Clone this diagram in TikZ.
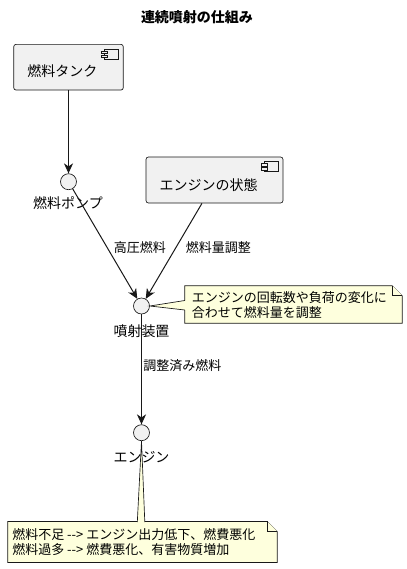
\documentclass[tikz,border=0pt]{standalone}
\usepackage{fontspec}
\newfontfamily\cjk{Noto Sans CJK JP}
\usetikzlibrary{arrows.meta,calc}
\definecolor{boxfill}{HTML}{F1F1F1}
\definecolor{linec}{HTML}{181818}
\definecolor{notefill}{HTML}{FEFFDD}
\newcommand\pxl{0.75pt}
\newcommand\compicon[1]{%
  \filldraw[iconline] ($(#1.north east)+(-19,5)$) rectangle ($(#1.north east)+(-5,15)$);
  \filldraw[iconline] ($(#1.north east)+(-22,7)$) rectangle ($(#1.north east)+(-16,9.5)$);
  \filldraw[iconline] ($(#1.north east)+(-22,11)$) rectangle ($(#1.north east)+(-16,13.5)$);
}
\newcommand\notebody[1]{%
  \filldraw[noteline] (#1.north west) -- ([xshift=-7.5pt]#1.north east) -- ([yshift=-7.5pt]#1.north east) -- (#1.south east) -- (#1.south west) -- cycle;
  \draw[noteline] ([xshift=-7.5pt]#1.north east) -- ([xshift=-7.5pt,yshift=-7.5pt]#1.north east) -- ([yshift=-7.5pt]#1.north east);
}
\begin{document}
\begin{tikzpicture}[x=0.75pt,y=-0.75pt,
  txt/.style={font=\cjk\fontsize{10.5pt}{12pt}\selectfont, text=black, inner sep=0pt},
  smalltxt/.style={font=\cjk\fontsize{9.75pt}{11.25pt}\selectfont, text=black, inner sep=0pt, align=left},
  titletxt/.style={font=\cjk\bfseries\fontsize{10.5pt}{12pt}\selectfont, text=black, inner sep=0pt},
  compbox/.style={draw=linec, fill=boxfill, line width=0.5pt, rounded corners=1.8pt, inner sep=0pt},
  iconline/.style={draw=linec, fill=boxfill, line width=0.5pt},
  iface/.style={circle, draw=linec, fill=boxfill, line width=0.5pt, minimum size=16*\pxl, inner sep=0pt},
  arr/.style={draw=linec, line width=0.75pt, -{Stealth[length=7.5pt,width=6.8pt,inset=2.3pt]}},
  noteline/.style={draw=linec, fill=notefill, line width=0.5pt},
  notearea/.style={inner sep=0pt, draw=none}
]
\useasboundingbox (0,0) rectangle (407,569);

% title
\node[titletxt] (title) at (197,17.5) {連続噴射の仕組み};

% components
\node[compbox, minimum width=109.6*\pxl, minimum height=45.7*\pxl] (tank) at (68.5,67.2) {};
\compicon{tank}
\node[txt] (tanktext) at (62.5,71.5) {燃料タンク};

\node[compbox, minimum width=137*\pxl, minimum height=46*\pxl] (state) at (214.5,180) {};
\compicon{state}
\node[txt] (statetext) at (208.7,185.5) {エンジンの状態};

% interfaces
\node[iface] (pump) at (68.5,181.7) {};
\node[txt] (pumplabel) at (68,203.5) {燃料ポンプ};
\node[iface] (inj) at (141.5,306) {};
\node[txt] (injlabel) at (141.5,331.5) {噴射装置};
\node[iface] (eng) at (141.5,432.7) {};
\node[txt] (englabel) at (141.5,457) {エンジン};

% connectors
\draw[arr] (tank.south) -- (pump);
\draw[arr] (pump) -- (inj);
\draw[arr] ([xshift=-9.4pt]state.south) -- (inj);
\draw[arr] (inj) -- (eng);

\node[smalltxt, anchor=west] (lab1) at (113.5,248) {高圧燃料};
\node[smalltxt, anchor=west] (lab2) at (185.5,248) {燃料量調整};
\node[smalltxt, anchor=west] (lab3) at (143,366) {調整済み燃料};

% note 1
\node[notearea, minimum width=217*\pxl, minimum height=37*\pxl] (note1) at (293.5,304.5) {};
\notebody{note1}
\coordinate (n1a) at (184.8,300.5);
\coordinate (n1b) at (184.8,310);
\fill[notefill] (inj.east) -- (n1a) -- ([xshift=1pt]n1a) -- ([xshift=1pt]n1b) -- (n1b) -- cycle;
\draw[linec, line width=0.5pt] (n1a) -- (inj.east) -- (n1b);
\node[smalltxt, anchor=west] (note1text) at (191.5,305.5) {エンジンの回転数や負荷の変化に\\合わせて燃料量を調整};

% note 2
\node[notearea, minimum width=269*\pxl, minimum height=40.5*\pxl] (note2) at (142.5,542) {};
\notebody{note2}
\coordinate (n2a) at (137.3,522);
\coordinate (n2b) at (144.8,522);
\fill[notefill] (eng.south) -- (n2a) -- ([yshift=-1pt]n2a) -- ([yshift=-1pt]n2b) -- (n2b) -- cycle;
\draw[linec, line width=0.5pt] (n2a) -- (eng.south) -- (n2b);
\node[smalltxt, anchor=west] (note2text) at (12,542.5) {燃料不足 {-}{-}> エンジン出力低下、燃費悪化\\燃料過多 {-}{-}> 燃費悪化、有害物質増加};

\end{tikzpicture}
\end{document}
